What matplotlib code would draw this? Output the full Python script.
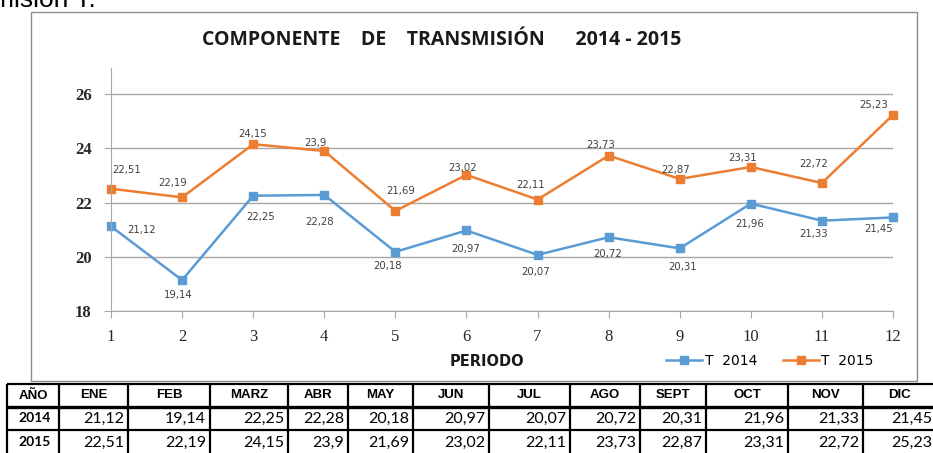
import matplotlib.pyplot as plt
from matplotlib.patches import Rectangle

periodos = list(range(1, 13))
t2014 = [21.12, 19.14, 22.25, 22.28, 20.18, 20.97, 20.07, 20.72, 20.31, 21.96, 21.33, 21.45]
t2015 = [22.51, 22.19, 24.15, 23.9, 21.69, 23.02, 22.11, 23.73, 22.87, 23.31, 22.72, 25.23]
meses = ['ENE', 'FEB', 'MARZ', 'ABR', 'MAY', 'JUN', 'JUL', 'AGO', 'SEPT', 'OCT', 'NOV', 'DIC']
anios = ['2014', '2015']
yticks = [18, 20, 22, 24, 26]

# label offsets in pixels (dx, dy) relative to each point
off_2014 = [(31, -4), (-4, -15), (7, -21), (-5, -27), (-8, -14), (-1, -19),
            (-2, -17), (-1, -17), (3, -19), (-1, -20), (-8, -13), (-14, -12)]
off_2015 = [(16, 19), (-9, 14), (-1, 10), (-9, 8), (5, 20), (-4, 7),
            (-7, 15), (-8, 11), (-4, 9), (-8, 9), (-8, 19), (-19, 10)]

BLUE = '#5B9BD5'
ORANGE = '#ED7D31'
W, H = 933, 453


def fmt(v):
    return ('%g' % v).replace('.', ',')


fig = plt.figure(figsize=(W / 100, H / 100), dpi=100)
fig.patch.set_facecolor('white')

# text cut off at the top of the page
fig.text(-8 / W, 1 - 7 / H, 'misión T.', fontsize=19, family='Liberation Sans',
         va='baseline', ha='left')

# chart frame
fig.patches.append(Rectangle((31 / W, 1 - 381 / H), (917 - 31) / W, (381 - 12) / H,
                             transform=fig.transFigure, fill=False,
                             edgecolor='#8c8c8c', lw=1))

ax = fig.add_axes([111 / W, 1 - 311 / H, (893 - 111) / W, (311 - 68) / H])
ax.set_xlim(1, 12)
ax.set_ylim(18, 26.96)
ax.set_yticks(yticks)
ax.set_xticks(periodos)
ax.grid(axis='y', color='#a6a6a6', lw=1)
ax.set_axisbelow(True)
for s in ['top', 'right']:
    ax.spines[s].set_visible(False)
for s in ['left', 'bottom']:
    ax.spines[s].set_color('#a6a6a6')
ax.tick_params(axis='both', colors='#a6a6a6', length=5, labelcolor='#262626')
ax.tick_params(axis='y', pad=9)
ax.tick_params(axis='x', pad=8)
for lab in ax.get_yticklabels():
    lab.set_family('Liberation Serif')
    lab.set_fontsize(12)
    lab.set_fontweight('bold')
for lab in ax.get_xticklabels():
    lab.set_family('Liberation Serif')
    lab.set_fontsize(12)

ax.plot(periodos, t2014, color=BLUE, lw=1.8, marker='s', ms=5.5, label='T  2014', clip_on=False)
ax.plot(periodos, t2015, color=ORANGE, lw=1.8, marker='s', ms=5.5, label='T  2015', clip_on=False)

for x, v, (dx, dy) in zip(periodos, t2014, off_2014):
    ax.annotate(fmt(v), (x, v), xytext=(dx, dy), textcoords='offset pixels',
                ha='center', va='center', fontsize=7.3, color='#404040')
for x, v, (dx, dy) in zip(periodos, t2015, off_2015):
    ax.annotate(fmt(v), (x, v), xytext=(dx, dy), textcoords='offset pixels',
                ha='center', va='center', fontsize=7.3, color='#404040')

fig.text(442 / W, 1 - 40 / H, 'COMPONENTE    DE    TRANSMISIÓN      2014 - 2015',
         ha='center', va='center', fontsize=14, fontweight='bold', family='Open Sans',
         color='#1a1a1a')
fig.text(487 / W, 1 - 361 / H, 'PERIODO', ha='center', va='center',
         fontsize=10.5, fontweight='bold', family='DejaVu Sans', color='#1a1a1a')
ax.legend(loc='center', bbox_to_anchor=(770 / W, 1 - 361 / H),
          bbox_transform=fig.transFigure, ncol=2, frameon=False,
          fontsize=10, handlelength=2.6, handletextpad=0.2, columnspacing=1.8,
          borderaxespad=0)

# data table below the chart
tax = fig.add_axes([0, 0, 1, 1])
tax.set_xlim(0, W)
tax.set_ylim(H, 0)
tax.axis('off')
cols = [7, 59, 128, 210, 288, 348, 413, 489, 570, 640, 706, 788, 863, 936]
rows = [384, 407, 430, 455]
for i, y in enumerate(rows[:-1]):
    tax.plot([cols[0], cols[-1]], [y, y], color='black', lw=2.4 if i == 1 else 1.6,
             solid_capstyle='butt')
for x in cols:
    tax.plot([x, x], [rows[0], rows[-1]], color='black', lw=1.6, solid_capstyle='butt')

ymid = [(rows[i] + rows[i + 1]) / 2 for i in range(3)]
tax.text((cols[0] + cols[1]) / 2, ymid[0], 'AÑO', ha='center', va='center',
         fontsize=9.5, fontweight='bold', family='Liberation Sans')
for j, m in enumerate(meses):
    tax.text((cols[j + 1] + cols[j + 2]) / 2, ymid[0], m, ha='center', va='center',
             fontsize=9.5, fontweight='bold', family='Liberation Sans')
for r, (anio, vals) in enumerate(zip(anios, [t2014, t2015])):
    tax.text((cols[0] + cols[1]) / 2 + 2, ymid[r + 1], anio, ha='center', va='center',
             fontsize=10, fontweight='bold', family='Lato')
    for j, v in enumerate(vals):
        tax.text(cols[j + 2] - 4, ymid[r + 1], fmt(v), ha='right', va='center',
                 fontsize=11.5, family='Lato')

fig.savefig('out.png', dpi=100)
